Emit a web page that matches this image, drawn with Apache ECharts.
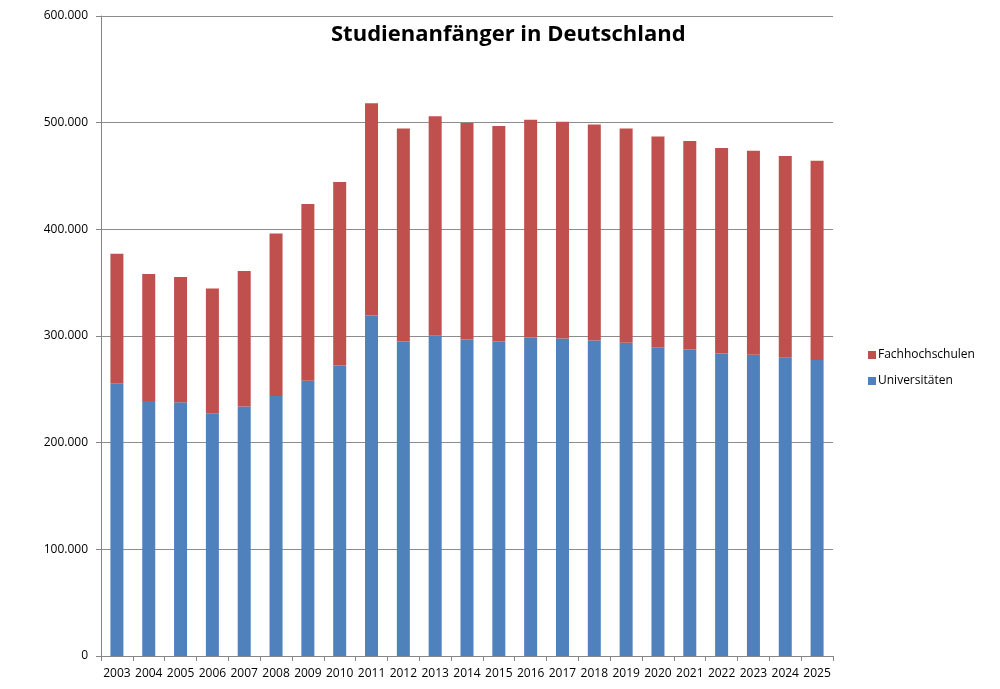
<!DOCTYPE html>
<html>
<head>
<meta charset="utf-8">
<script src="https://cdn.jsdelivr.net/npm/echarts@6/dist/echarts.min.js"></script>
<style>
  html, body { margin: 0; padding: 0; background: #fff; }
  #chart { width: 1000px; height: 689px; }
</style>
</head>
<body>
<div id="chart"></div>
<script>
// Studienanfänger in Deutschland
const years = ["2003","2004","2005","2006","2007","2008","2009","2010","2011","2012","2013","2014",
  "2015","2016","2017","2018","2019","2020","2021","2022","2023","2024","2025"];
const universitaeten = [255800, 239000, 237800, 227500, 234000, 243700, 258000, 272400, 319200, 294900, 300200, 296700,
  294900, 298600, 297700, 295800, 293600, 289500, 287400, 283600, 282400, 279600, 277400];
const gesamt = [377000, 358200, 355400, 344500, 361000, 396000, 423800, 444400, 518300, 494500, 506100, 499600,
  496800, 502700, 500800, 498300, 494500, 487000, 482700, 476200, 473700, 468700, 464300];
const fachhochschulen = gesamt.map((t, i) => t - universitaeten[i]);

function fmtDE(v) {
  return v === 0 ? "0" : String(v).replace(/\B(?=(\d{3})+(?!\d))/g, ".");
}

const FONT = "'Open Sans', 'DejaVu Sans', sans-serif";
const chart = echarts.init(document.getElementById("chart"));

chart.setOption({
  animation: false,
  title: {
    text: "Studienanfänger in Deutschland",
    left: 326, top: 19,
    textStyle: {fontFamily: FONT, fontSize: 22, fontWeight: "bold", color: "#000"},
  },
  legend: {
    orient: "vertical",
    left: 863, top: 344,
    itemWidth: 8, itemHeight: 8, itemGap: 14,
    icon: "rect",
    data: ["Fachhochschulen", "Universitäten"],
    textStyle: {fontFamily: FONT, fontSize: 12, color: "#000", padding: [0, 0, 0, -3]},
  },
  grid: {left: 101, right: 167, top: 16, bottom: 33, containLabel: false},
  xAxis: {
    type: "category",
    data: years,
    axisLine: {lineStyle: {color: "#868686"}},
    axisTick: {show: true, length: 5, alignWithLabel: false, lineStyle: {color: "#868686"}},
    axisLabel: {fontFamily: FONT, fontSize: 12, color: "#000", margin: 12, interval: 0},
  },
  yAxis: {
    type: "value",
    min: 0, max: 600000, interval: 100000,
    axisLine: {show: true, lineStyle: {color: "#868686"}},
    axisTick: {show: true, length: 5, lineStyle: {color: "#868686"}},
    splitLine: {lineStyle: {color: "#8c8c8c"}},
    axisLabel: {fontFamily: FONT, fontSize: 12, color: "#000", margin: 13, formatter: fmtDE},
  },
  series: [
    {
      name: "Universitäten",
      type: "bar",
      stack: "total",
      barWidth: 13,
      data: universitaeten,
      itemStyle: {color: "#4F81BD"},
    },
    {
      name: "Fachhochschulen",
      type: "bar",
      stack: "total",
      barWidth: 13,
      data: fachhochschulen,
      itemStyle: {color: "#C0504D"},
    },
  ],
});
</script>
</body>
</html>
